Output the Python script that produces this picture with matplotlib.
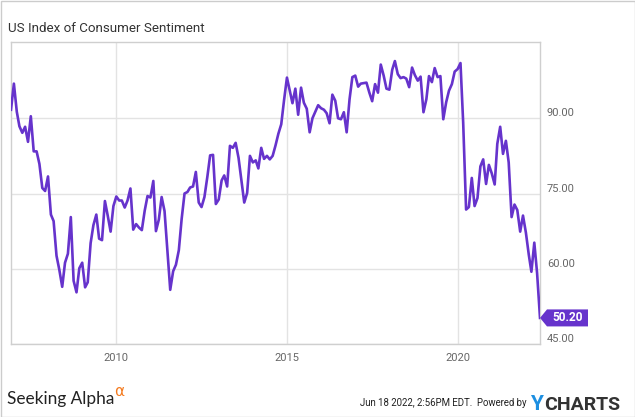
import matplotlib
matplotlib.use("Agg")
import matplotlib.pyplot as plt
import matplotlib.dates as mdates
import matplotlib.transforms as mtransforms
from matplotlib.patches import Polygon, Rectangle
import pandas as pd

title = "US Index of Consumer Sentiment"
start_month = "2006-12-01"
sentiment = [
    91.7,
    96.9, 91.3, 88.4, 87.1, 88.3, 85.3, 90.4, 83.4, 83.4, 80.9, 76.1, 75.5,
    78.4, 70.8, 69.5, 62.6, 59.8, 56.4, 61.2, 63.0, 70.3, 57.6, 55.3, 60.1,
    61.2, 56.3, 57.3, 65.1, 68.7, 70.8, 66.0, 65.7, 73.5, 70.6, 67.4, 72.5,
    74.4, 73.6, 73.6, 72.2, 73.6, 76.0, 67.8, 68.9, 68.2, 67.7, 71.6, 74.5,
    74.2, 77.5, 67.5, 69.8, 74.3, 71.5, 63.7, 55.8, 59.5, 60.8, 63.7, 69.9,
    75.0, 75.3, 76.2, 76.4, 79.3, 73.2, 72.3, 74.3, 78.3, 82.6, 82.7, 72.9,
    73.8, 77.6, 78.6, 76.4, 84.5, 84.1, 85.1, 82.1, 77.5, 73.2, 75.1, 82.5,
    81.2, 81.6, 80.0, 84.1, 81.9, 82.5, 81.8, 82.5, 84.6, 86.9, 88.8, 93.6,
    98.1, 95.4, 93.0, 95.9, 90.7, 96.1, 93.1, 91.9, 87.2, 90.0, 91.3, 92.6,
    92.0, 91.7, 91.0, 89.0, 94.7, 93.5, 90.0, 89.8, 91.2, 87.2, 93.8, 98.2,
    98.5, 96.3, 96.9, 97.0, 97.1, 95.1, 93.4, 96.8, 95.1, 100.7, 98.5, 95.9,
    95.7, 99.7, 101.4, 98.8, 98.0, 98.2, 97.9, 96.2, 100.1, 98.6, 97.5, 98.3,
    91.2, 93.8, 98.4, 97.2, 100.0, 98.2, 98.4, 89.8, 93.2, 95.5, 96.8, 99.3,
    99.8, 101.0, 89.1, 71.8, 72.3, 78.1, 72.5, 74.1, 80.4, 81.8, 76.9, 80.7,
    79.0, 76.8, 84.9, 88.3, 82.9, 85.5, 81.2, 70.3, 72.8, 71.7, 67.4, 70.6,
    67.2, 62.8, 59.4, 65.2, 59.1, 50.2,
]
dates = pd.date_range(start_month, periods=len(sentiment), freq="MS")
y_ticks = [45, 60, 75, 90]
x_tick_years = [2010, 2015, 2020]
footer_stamp = "Jun 18 2022, 2:56PM EDT.  Powered by"

LINE = "#6633cc"
W, H = 635, 417
fig = plt.figure(figsize=(W / 100, H / 100), dpi=100)
fig.patch.set_facecolor("white")

ax = fig.add_axes([11 / W, 1 - 344 / H, (540 - 11) / W, (344 - 42) / H])
ax.plot(dates, sentiment, color=LINE, lw=1.9, solid_joinstyle="round", zorder=3)
ax.set_xlim(dates[0], dates[-1])
ax.set_ylim(45, 105.2)

ax.set_yticks(y_ticks)
ax.set_yticklabels([f"{v:.2f}" for v in y_ticks])
ax.yaxis.tick_right()
ax.set_xticks([pd.Timestamp(f"{y}-01-01") for y in x_tick_years])
ax.set_xticklabels([str(y) for y in x_tick_years])
ax.tick_params(axis="both", length=0, colors="#666666", labelsize=8.0)
ax.tick_params(axis="y", pad=5)
ax.tick_params(axis="x", pad=6.5)
for lab in ax.get_yticklabels() + ax.get_xticklabels():
    lab.set_fontfamily("Roboto")
for lab in ax.get_yticklabels():
    lab.set_va("bottom")
ax.grid(True, color="#e3e3e3", lw=1)
ax.set_axisbelow(True)
for s in ax.spines.values():
    s.set_color("#cfcfcf")
    s.set_linewidth(1)

# title
fig.text(8 / W, 1 - 32.3 / H, title, fontsize=9.6, family="Roboto",
         color="#333333", ha="left", va="baseline")

# last value label
fig.canvas.draw()
px, py = ax.transData.transform((mdates.date2num(dates[-1]), sentiment[-1]))
hh = 8.5
verts = [(px, py), (px + 7, py + hh), (px + 48, py + hh),
         (px + 48, py - hh), (px + 7, py - hh)]
fig.patches.append(Polygon(verts, closed=True, facecolor=LINE, edgecolor="none",
                           transform=mtransforms.IdentityTransform(), figure=fig))
fig.text((px + 28) / W, py / H, f"{sentiment[-1]:.2f}", fontsize=8.6,
         family="Roboto", weight="bold", color="white", ha="center", va="center")

# footer
fig.text(7 / W, 1 - 404.3 / H, "Seeking Alpha", fontsize=12.4, family="Lato",
         color="#222222", ha="left", va="baseline")
fig.text(114 / W, 1 - 396.5 / H, "\u03b1", fontsize=11, family="DejaVu Sans",
         color="#f47b20", ha="left", va="baseline")
fig.text(527 / W, 1 - 405.7 / H, footer_stamp, fontsize=6.9,
         family="Roboto", color="#222222", ha="right", va="baseline")
fig.text(530 / W, 1 - 410 / H, "Y", fontsize=15, family="Roboto", weight="bold",
         color="#1d8fe1", ha="left", va="baseline")
fig.text(544 / W, 1 - 410 / H, "CHARTS", fontsize=14, family="Roboto",
         weight="bold", color="#333333", ha="left", va="baseline")

# outer border
fig.patches.append(Rectangle((0.5 / W, 0.5 / H), 1 - 1 / W, 1 - 1 / H,
                             transform=fig.transFigure, fill=False,
                             edgecolor="#cccccc", lw=1, figure=fig))

fig.savefig("out.png", dpi=100, facecolor="white")
